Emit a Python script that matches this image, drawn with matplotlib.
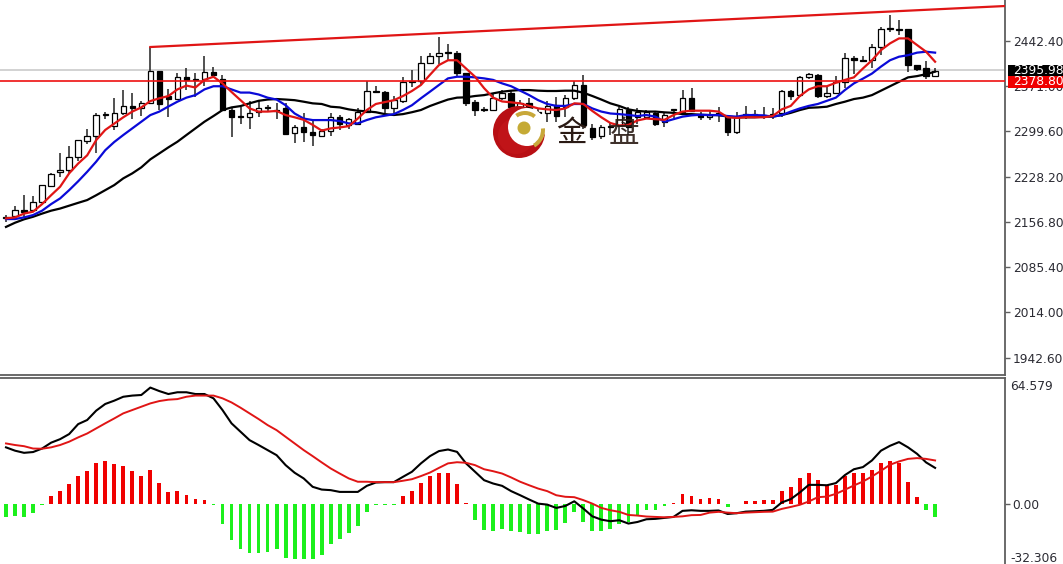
import numpy as np
import matplotlib
matplotlib.use("Agg")
import matplotlib.pyplot as plt
from matplotlib.patches import Circle, Rectangle, Wedge

# candles
opens = [2163,2166,2175,2175,2188,2214,2236,2239,2259,2285,2292,2326,2308,2328,2340,2336,2344,2395,2355,2351,
         2386,2383,2383,2394,2383,2334,2323,2322,2331,2337,2333,2336,2297,2306,2299,2293,2300,2323,2310,2312,
         2330,2364,2362,2336,2347,2378,2380,2407,2418,2424,2424,2392,2346,2335,2333,2352,2361,2338,2344,2331,
         2328,2341,2339,2353,2373,2305,2293,2306,2310,2334,2323,2323,2329,2315,2333,2331,2353,2325,2322,2328,
         2323,2298,2325,2326,2324,2325,2328,2363,2357,2385,2388,2355,2361,2378,2416,2412,2412,2433,2461,2462,
         2461,2404,2399,2387]
highs = [2168,2182,2200,2197,2215,2234,2266,2277,2286,2303,2328,2330,2353,2365,2361,2347,2433,2395,2366,2392,
         2399,2392,2418,2402,2389,2336,2338,2347,2347,2341,2344,2345,2310,2328,2319,2304,2329,2326,2321,2336,
         2379,2371,2363,2355,2386,2396,2419,2423,2449,2438,2427,2392,2350,2339,2360,2365,2364,2350,2353,2336,
         2347,2354,2357,2380,2388,2312,2310,2315,2339,2338,2336,2333,2332,2329,2335,2365,2369,2331,2333,2338,
         2325,2331,2340,2333,2339,2336,2365,2365,2387,2392,2391,2371,2387,2424,2419,2418,2438,2465,2483,2475,
         2462,2405,2411,2400]
lows = [2156,2163,2165,2173,2186,2214,2227,2233,2253,2280,2266,2320,2302,2325,2319,2324,2343,2333,2323,2351,
        2365,2354,2371,2386,2332,2291,2311,2304,2322,2331,2319,2294,2281,2283,2277,2292,2292,2302,2303,2311,
        2328,2361,2329,2328,2345,2370,2373,2406,2406,2412,2385,2340,2324,2330,2332,2349,2336,2320,2323,2319,
        2315,2315,2323,2350,2304,2286,2287,2294,2294,2294,2312,2322,2308,2306,2321,2328,2331,2317,2318,2315,
        2292,2296,2320,2322,2319,2320,2322,2350,2354,2383,2353,2353,2360,2368,2390,2411,2400,2420,2457,2452,
        2394,2395,2383,2386]
closes = [2164,2175,2172,2189,2215,2233,2239,2259,2286,2292,2325,2327,2328,2340,2336,2344,2395,2343,2351,2386,
          2381,2381,2394,2389,2333,2323,2322,2329,2337,2338,2332,2295,2306,2299,2294,2300,2323,2312,2319,2330,
          2364,2362,2336,2349,2378,2380,2407,2418,2424,2423,2392,2345,2333,2334,2352,2361,2338,2344,2332,2329,
          2340,2324,2353,2373,2310,2291,2306,2309,2335,2307,2331,2331,2312,2326,2333,2353,2332,2322,2325,2326,
          2298,2323,2326,2327,2325,2326,2363,2356,2385,2391,2355,2361,2378,2416,2412,2411,2433,2462,2463,2460,
          2405,2398,2387,2395]

# moving averages
ma_red = [2162.5,2164,2170,2173,2185,2199,2212.4,2233.5,2249,2262,2286,2302,2312,2322,2331,2337.6,2347.6,2352,2355.5,2366,
          2372,2369,2381,2386,2375.5,2362,2349,2336,2331,2331,2332,2325.5,2322,2318,2310,2301,2304.5,2306,2308,2320,
          2333.5,2343,2346,2349,2355.5,2363.5,2373,2389,2404.5,2412,2412,2399,2386,2368,2353,2347,2345.6,2344,2340,2336,
          2334.5,2333.5,2336,2344,2343,2332,2322,2313,2309,2310,2317,2320,2319,2318,2325.6,2331,2332.4,2332.4,2332.4,2331,
          2322,2321,2322,2322,2322,2324,2334.5,2340,2355.5,2366,2371,2371,2376.5,2381,2385,2399,2412,2428,2438.6,2446.5,
          2446.5,2436,2425.5,2409.7]
ma_blue = [2161.4,2161.4,2164,2167.7,2174.6,2185,2194,2207,2221,2236,2252,2270,2283,2294,2304.5,2315,2325.5,2331,2339,2346.6,
           2353,2357,2366,2371,2371,2366,2361,2361,2358,2353,2350,2341,2328,2320,2317.6,2317.6,2317.6,2316,2312.4,2312.4,
           2317.7,2322,2324.5,2327,2333.5,2341,2352,2362.4,2373,2383.4,2386,2386,2385,2383.4,2381,2375.5,2371,2364,2357,2349,
           2343,2340,2340,2343,2343,2336,2331,2328,2327,2325.6,2324,2325.6,2323,2315,2319,2323,2325,2326,2325.5,2325.5,
           2324,2323,2325.5,2325.5,2325,2323,2325.5,2331,2336,2340,2343,2348,2353,2365,2375.5,2383,2391,2402,2412,2417.6,
           2420,2424,2425.5,2424]
ma_black = [2149,2155.6,2161,2165,2170,2174.6,2178,2182.5,2187,2191.4,2199,2207,2215,2225.6,2233.5,2243,2255.6,2265,2274.5,2283.4,
            2294,2304.5,2315,2324,2333.4,2337.6,2339.7,2344,2348,2350,2350.8,2350,2349,2346.6,2344,2343,2338.7,2337.6,2334.5,2332.4,
            2331.4,2330,2327,2325.6,2327,2330,2333.5,2339.8,2345,2350,2353,2353.5,2355.6,2357,2359.8,2362.4,2364,2365,2365,2364,
            2363.5,2363.5,2364,2364,2360.8,2355.6,2350,2344,2339.8,2334.5,2332,2331,2331,2329.8,2329,2327,2327,2326,2325.5,2325.5,
            2323,2322,2322,2322,2323,2323,2325.5,2329,2333.4,2337,2337.6,2338.7,2343,2346.6,2350.8,2353,2357,2364,2371,2378,
            2385,2387,2390,2394]

# macd panel
macd_hist = [-6.5,-6.2,-6.5,-4.4,-0.4,4.3,6.8,10.1,14.4,16.8,21,21.9,20.5,19.5,16.8,14.4,17.3,10.9,6.2,6.7,
             4.8,2.9,2,-0.4,-10.3,-18.5,-23,-24.8,-24.8,-24.6,-23,-27.4,-28,-28,-28,-25.8,-20.5,-18,-14.7,-11.3,
             -3.9,-0.2,-0.3,-0.3,4.3,6.7,10.9,14.4,16,16.2,10.6,0.5,-7.9,-13,-13.7,-12.6,-13.8,-14,-15.2,-15.2,
             -13.7,-13.3,-9.6,-4.1,-9,-13.5,-13.5,-12.6,-10.3,-9.2,-5.6,-3,-3,-1,0.7,5.1,4.1,2.7,3.1,2.6,
             -1.5,0.3,1.4,1.5,2.2,2.2,7,9,13.3,16.2,12.5,9.9,9.9,14.5,15.9,15.9,17.3,21,21.9,21,
             11.6,3.6,-3.2,-6.7]
macd_line = [29.1,27.4,26.3,26.7,28.5,31.5,33.3,35.9,41,43.1,47.9,51.3,53,55,55.6,55.9,59.7,57.9,56.4,57.3,
             57.3,56.4,56.4,54.2,48.2,41.4,37.1,32.8,30.3,27.7,25.1,20,16.1,13.2,8.9,7.5,7.2,6.3,6.3,6.3,
             9.4,11.1,11.3,11.3,14,16.6,20.9,24.6,27.2,28,26.8,20.9,16.6,12.3,10.6,9.4,6.7,4.6,2.4,0.3,
             -0.2,-1.9,-0.9,1.5,-2.2,-6.2,-7.9,-8.7,-8.2,-9.9,-9.1,-7.7,-7.5,-7,-6.5,-3.4,-3.1,-3.4,-3.4,-3.2,
             -5,-4.6,-3.8,-3.6,-3.4,-2.9,0.9,2.6,6,9.9,9.9,9.7,10.8,14.9,17.9,19,22.4,27.4,29.9,31.8,
             29.1,25.8,21.4,18.6]
macd_signal = [31.1,30.3,29.7,28.5,28.4,29.1,30.3,32,34.2,36.2,38.8,41.4,43.9,46.5,48.2,49.9,51.6,52.8,53.5,53.8,
               55,55.6,55.6,55.6,54.2,52.1,49.4,46.5,43.6,40.5,37.9,34.5,31.1,27.7,24.6,21.4,18.3,15.7,13.2,11.5,
               11.5,11.3,11.3,11.3,12,12.8,14.4,16.2,18.6,20.9,21.5,21.2,20,17.9,16.9,15.7,13.7,11.5,9.7,8,
               6.7,4.6,3.8,3.6,2.1,0.3,-1.9,-3.1,-3.9,-5.5,-5.8,-6.3,-6.5,-6.7,-6.5,-6.2,-5.6,-5.5,-4.3,-3.9,
               -4.3,-4.6,-4.3,-4.1,-3.9,-3.8,-2.4,-1.4,-0.3,1.4,3.6,3.9,5.3,7.4,9.6,11.6,14.2,17.1,20.2,21.9,
               23.2,23.6,23.2,22.4]

# axis labels and levels
price_ticks = [2442.40, 2371.00, 2299.60, 2228.20, 2156.80, 2085.40, 2014.00, 1942.60]
bid_price = 2395.98
alert_price = 2378.80
trend_idx = [16, 110.75]
trend_price = [2432.9, 2497.6]
macd_max = 64.579
macd_min = -32.306

W, H = 1063, 564
AXIS_COL = "#5f5f5f"
TICK_FS = 8.8

fig = plt.figure(figsize=(W / 100, H / 100), dpi=100, facecolor="white")
ax1 = fig.add_axes([0, 1 - 375 / H, 1005 / W, 375 / H])
ax2 = fig.add_axes([0, 0, 1005 / W, (H - 378) / H])

xs = np.arange(len(closes))
xlim = (-0.665, 110.75)

# wicks then bodies
ax1.vlines(xs, lows, highs, color="#222222", lw=1.1, zorder=2)
o = np.array(opens)
c = np.array(closes)
up = c >= o
body_h = np.maximum(np.abs(c - o), 1.6)
ax1.bar(xs, body_h, bottom=np.minimum(o, c), width=0.6,
        color=np.where(up, "white", "black").tolist(), edgecolor="black", lw=0.9, zorder=3)

# levels
ax1.axhline(bid_price, color="#d2d2d2", lw=1.4, zorder=1)
ax1.axhline(alert_price, color="#ee1111", lw=1.2, zorder=5)
ax1.plot(trend_idx, trend_price, color="#e01515", lw=1.6, zorder=5)

ax1.plot(xs, ma_black, color="black", lw=1.6, zorder=4)
ax1.plot(xs, ma_blue, color="#0a0ad8", lw=1.6, zorder=4)
ax1.plot(xs, ma_red, color="#e01515", lw=1.6, zorder=4)

ax1.set_xlim(xlim)
ax1.set_ylim(1915.3, 2507.1)
ax1.set_yticks(price_ticks)
ax1.set_yticklabels(["%.2f" % t for t in price_ticks])

# macd
hist = np.array(macd_hist)
ax2.bar(xs, hist, width=0.42, color=np.where(hist >= 0, "#f00000", "#1cf01c").tolist(), zorder=2)
ax2.plot(xs, macd_line, color="black", lw=1.5, zorder=3)
ax2.plot(xs, macd_signal, color="#e01515", lw=1.4, zorder=4)
ax2.set_xlim(xlim)
ax2.set_ylim(-30.6, 64.6)
ax2.set_yticks([0])
ax2.set_yticklabels(["0.00"])

for ax in (ax1, ax2):
    ax.set_xticks([])
    ax.yaxis.tick_right()
    ax.tick_params(axis="y", length=3.5, width=1, color=AXIS_COL, labelsize=TICK_FS,
                   labelcolor="#2b2b33", pad=2)
    ax.spines["left"].set_visible(False)
    for s in ("top", "bottom", "right"):
        ax.spines[s].set_color(AXIS_COL)
        ax.spines[s].set_linewidth(1.3)
ax1.spines["top"].set_visible(False)
ax2.spines["bottom"].set_visible(False)

# overlay in pixels for the logo and price tags
ov = fig.add_axes([0, 0, 1, 1], zorder=10)
ov.set_xlim(0, W)
ov.set_ylim(H, 0)
ov.axis("off")
ov.patch.set_alpha(0)

ov.add_patch(Rectangle((1008, 64.5), 55, 11.5, fc="black", ec="none"))
ov.add_patch(Rectangle((1008, 76), 55, 11.5, fc="#f00000", ec="none"))
ov.text(1013, 70.6, "%.2f" % bid_price, color="white", fontsize=TICK_FS, va="center", ha="left")
ov.text(1013, 81.8, "%.2f" % alert_price, color="white", fontsize=TICK_FS, va="center", ha="left")
ov.text(1010, 386, "%.3f" % macd_max, color="#2b2b33", fontsize=TICK_FS, va="center", ha="left")
ov.text(1010, 559, "%.3f" % macd_min, color="#2b2b33", fontsize=TICK_FS, va="center", ha="left")

# logo
ov.add_patch(Circle((519, 132), 26, fc="#b80f14", ec="none"))
ov.add_patch(Circle((516, 136), 18, fc="#c91a1c", ec="none", alpha=0.5))
ov.add_patch(Circle((527, 127), 19, fc="white", ec="none"))
ov.add_patch(Wedge((525, 128), 17, 235, 310, width=4, fc="#c8a83a", ec="none"))
ov.add_patch(Wedge((525, 130), 20, -5, 60, width=4, fc="#c8a83a", ec="none"))
ov.add_patch(Circle((524, 128), 6.5, fc="#c5aa35", ec="none"))
cjk = ["Noto Sans CJK SC", "DejaVu Sans"]
ov.text(571, 133, "金", family=cjk, fontsize=22, color="#2a1a14", ha="center", va="center")
ov.text(624, 133, "盘", family=cjk, fontsize=22, color="#2a1a14", ha="center", va="center", alpha=0.9)

fig.savefig("out.png", dpi=100)
